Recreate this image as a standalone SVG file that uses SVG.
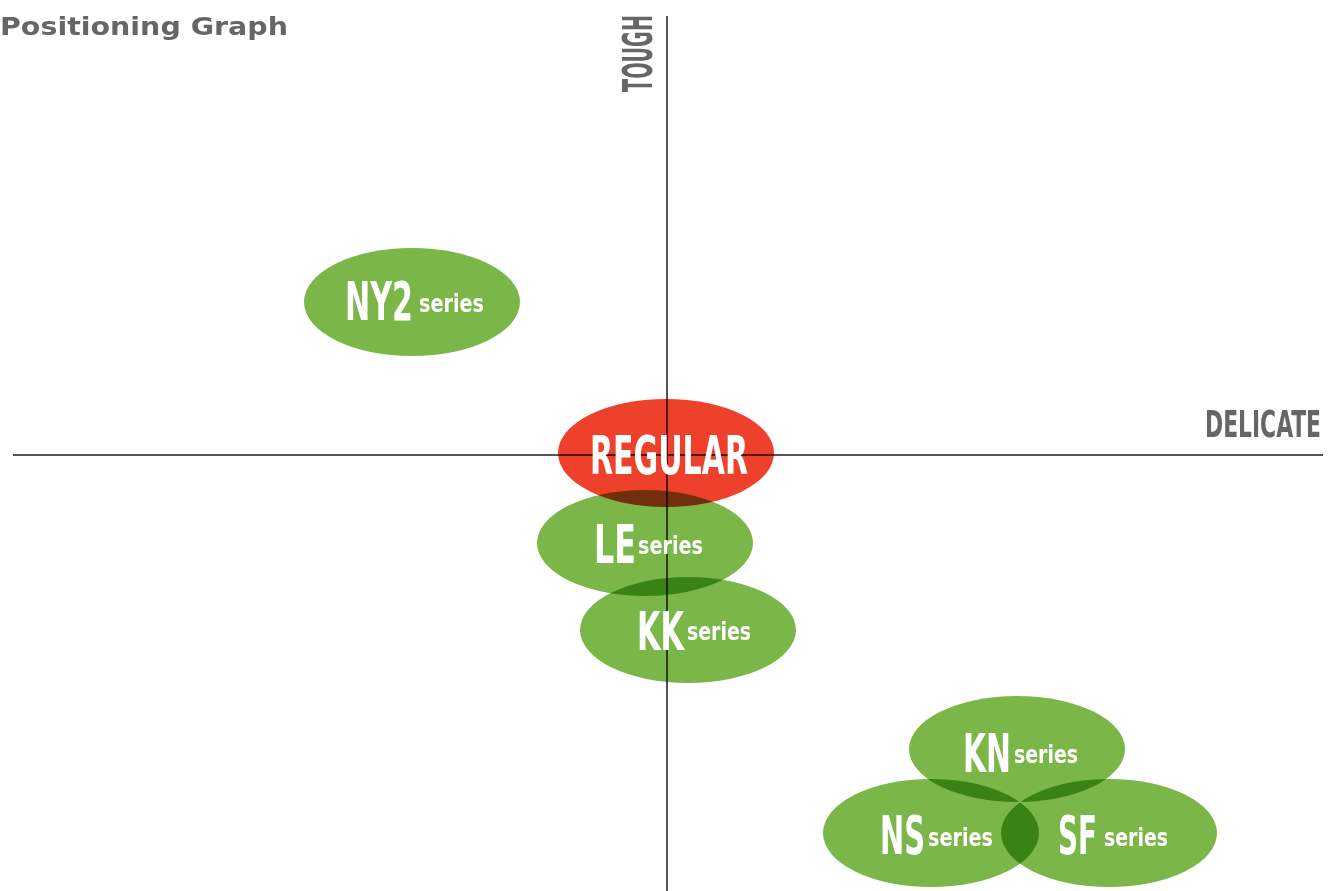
<svg xmlns="http://www.w3.org/2000/svg" width="1329" height="891" viewBox="0 0 1329 891">
<style>
.axis{stroke:#555;stroke-width:2;fill:none}
.lbl{font-family:"Liberation Sans Narrow","DejaVu Sans Condensed","Liberation Sans",sans-serif;font-weight:bold;fill:#666}
.g{fill:#7ab648;mix-blend-mode:multiply}
.r{fill:#ee412b;mix-blend-mode:multiply}
.big{font-family:"Liberation Sans Narrow","DejaVu Sans Condensed","Liberation Sans",sans-serif;font-weight:bold;fill:#fff;font-size:54px}
.sm{font-family:"Liberation Sans Narrow","DejaVu Sans Condensed","Liberation Sans",sans-serif;font-weight:bold;fill:#fff;font-size:25px}
</style>
<rect width="1329" height="891" fill="#fff"/>
<text x="0" y="35" font-family="'DejaVu Sans','Liberation Sans',sans-serif" font-weight="bold" font-size="24" fill="#666" textLength="288" lengthAdjust="spacingAndGlyphs">Positioning Graph</text>
<g id="connectors">
<line class="axis" x1="667" y1="16" x2="667" y2="891"/>
<line class="axis" x1="13" y1="455" x2="1323" y2="455"/>
</g>
<g id="tough"><text class="lbl" font-size="40" transform="translate(652,92) rotate(-90)" textLength="77" lengthAdjust="spacingAndGlyphs">TOUGH</text></g>
<g id="delicate"><text class="lbl" x="1205" y="437" font-size="37" textLength="116" lengthAdjust="spacingAndGlyphs">DELICATE</text></g>
<g id="regular"><ellipse class="r" cx="666" cy="453" rx="108" ry="54"/></g>
<g id="le"><ellipse class="g" cx="645" cy="543" rx="108" ry="53"/></g>
<g id="kk"><ellipse class="g" cx="688" cy="630" rx="108" ry="53"/></g>
<g id="ny2"><ellipse class="g" cx="412" cy="302" rx="108" ry="54"/></g>
<g id="kn"><ellipse class="g" cx="1017" cy="749" rx="108" ry="53"/></g>
<g id="ns"><ellipse class="g" cx="931" cy="833" rx="108" ry="54"/></g>
<g id="sf"><ellipse class="g" cx="1109" cy="833" rx="108" ry="54"/></g>
<g id="labels">
<text class="big" x="590" y="474" font-size="52" textLength="158" lengthAdjust="spacingAndGlyphs">REGULAR</text>
<text class="big" x="594" y="563" textLength="42" lengthAdjust="spacingAndGlyphs">LE</text>
<text class="sm" x="638" y="554" textLength="65" lengthAdjust="spacingAndGlyphs">series</text>
<text class="big" x="637" y="650" textLength="47" lengthAdjust="spacingAndGlyphs">KK</text>
<text class="sm" x="687" y="640" textLength="64" lengthAdjust="spacingAndGlyphs">series</text>
<text class="big" x="345" y="320" textLength="68" lengthAdjust="spacingAndGlyphs">NY2</text>
<text class="sm" x="419" y="312" textLength="65" lengthAdjust="spacingAndGlyphs">series</text>
<text class="big" x="963" y="772" textLength="48" lengthAdjust="spacingAndGlyphs">KN</text>
<text class="sm" x="1014" y="763" textLength="64" lengthAdjust="spacingAndGlyphs">series</text>
<text class="big" x="880" y="854" textLength="45" lengthAdjust="spacingAndGlyphs">NS</text>
<text class="sm" x="928" y="846" textLength="65" lengthAdjust="spacingAndGlyphs">series</text>
<text class="big" x="1058" y="854" textLength="39" lengthAdjust="spacingAndGlyphs">SF</text>
<text class="sm" x="1104" y="846" textLength="64" lengthAdjust="spacingAndGlyphs">series</text>
</g>
</svg>
